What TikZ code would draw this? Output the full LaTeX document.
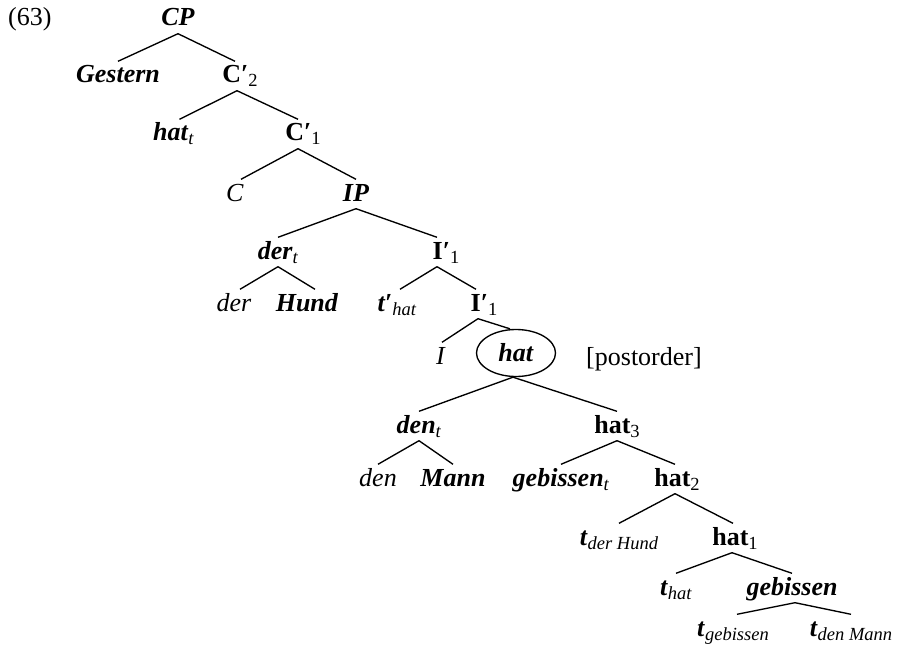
\documentclass[tikz,border=0pt]{standalone}
\usepackage{fontspec}
\setmainfont{Liberation Serif}
\usetikzlibrary{shapes.geometric}
\newcommand{\sbs}[1]{\raisebox{-4pt}{\fontsize{18.5}{20}\selectfont #1}}
\newcommand{\bi}[1]{\textbf{\textit{#1}}}
\begin{document}
\begin{tikzpicture}[x=1pt,y=-1pt,
  lab/.style={anchor=base, text height=19pt, text depth=5pt, inner ysep=2.5pt, inner xsep=0pt, font=\fontsize{26}{30}\selectfont},
  edge/.style={line width=1.35pt}]
\useasboundingbox (0,0) rectangle (903,650);
% nodes
\node[lab, anchor=base west] (ex) at (8,26) {(63)};
\node[lab] (CP) at (178,26) {\bi{CP}};
\node[lab] (Gestern) at (118,83) {\bi{Gestern}};
\node[lab] (C2) at (240,83) {\textbf{C′}\sbs{2}};
\node[lab] (hatt) at (173.5,141) {\bi{hat}\sbs{\textit{t}}};
\node[lab] (C1) at (303,141) {\textbf{C′}\sbs{1}};
\node[lab] (C) at (235,201) {\textit{C}};
\node[lab] (IP) at (356,201) {\bi{IP}};
\node[lab] (dert) at (278,259) {\bi{der}\sbs{\textit{t}}};
\node[lab] (I1) at (446,259) {\textbf{I′}\sbs{1}};
\node[lab] (der) at (234,311) {\textit{der}};
\node[lab] (Hund) at (307,311) {\bi{Hund}};
\node[lab] (thatp) at (397,311) {\bi{t′}\sbs{\textit{hat}}};
\node[lab] (I1b) at (484,311) {\textbf{I′}\sbs{1}};
\node[lab] (I) at (441,364) {\textit{I}};
\node[ellipse, draw, line width=1.35pt, minimum width=79pt, minimum height=47pt, inner sep=0pt, font=\fontsize{26}{30}\selectfont] (hat) at (516,353) {\bi{hat}};
\node[lab] (post) at (644,365) {[postorder]};
\node[lab] (dent) at (419,433) {\bi{den}\sbs{\textit{t}}};
\node[lab] (hat3) at (617,433) {\textbf{hat}\sbs{3}};
\node[lab] (den) at (378,486) {\textit{den}};
\node[lab] (Mann) at (453,486) {\bi{Mann}};
\node[lab] (gebt) at (561,486) {\bi{gebissen}\sbs{\textit{t}}};
\node[lab] (hat2) at (677,486) {\textbf{hat}\sbs{2}};
\node[lab] (tdh) at (619,545) {\bi{t}\sbs{\textit{der Hund}}};
\node[lab] (hat1) at (735,545) {\textbf{hat}\sbs{1}};
\node[lab] (that) at (676,595) {\bi{t}\sbs{\textit{hat}}};
\node[lab] (geb) at (792,595) {\bi{gebissen}};
\node[lab] (tgeb) at (733,636) {\bi{t}\sbs{\textit{gebissen}}};
\node[lab] (tdm) at (851,636) {\bi{t}\sbs{\textit{den Mann}}};
% edges
\draw[edge] (CP.south) -- (Gestern.north);
\draw[edge] (CP.south) -- ([xshift=-5pt]C2.north);
\draw[edge] ([xshift=-3pt]C2.south) -- ([xshift=6pt]hatt.north);
\draw[edge] ([xshift=-3pt]C2.south) -- ([xshift=-5pt]C1.north);
\draw[edge] ([xshift=-5pt]C1.south) -- ([xshift=6pt]C.north);
\draw[edge] ([xshift=-5pt]C1.south) -- (IP.north);
\draw[edge] (IP.south) -- (dert.north);
\draw[edge] (IP.south) -- ([xshift=-9pt]I1.north);
\draw[edge] (dert.south) -- ([xshift=6pt]der.north);
\draw[edge] (dert.south) -- ([xshift=8pt]Hund.north);
\draw[edge] ([xshift=-9pt]I1.south) -- ([xshift=3pt]thatp.north);
\draw[edge] ([xshift=-9pt]I1.south) -- ([xshift=-8pt]I1b.north);
\draw[edge] ([xshift=-6pt]I1b.south) -- ([xshift=1pt]I.north);
\draw[edge] ([xshift=-6pt]I1b.south) -- ([xshift=-6pt]hat.north);
\draw[edge] ([xshift=-3pt]hat.south) -- (dent.north);
\draw[edge] ([xshift=-3pt]hat.south) -- (hat3.north);
\draw[edge] (dent.south) -- (den.north);
\draw[edge] (dent.south) -- (Mann.north);
\draw[edge] (hat3.south) -- (gebt.north);
\draw[edge] (hat3.south) -- ([xshift=-2pt]hat2.north);
\draw[edge] ([xshift=-2pt]hat2.south) -- (tdh.north);
\draw[edge] ([xshift=-2pt]hat2.south) -- ([xshift=-2pt]hat1.north);
\draw[edge] ([xshift=-3pt]hat1.south) -- (that.north);
\draw[edge] ([xshift=-3pt]hat1.south) -- (geb.north);
\draw[edge] ([xshift=3pt]geb.south) -- ([xshift=4pt]tgeb.north);
\draw[edge] ([xshift=3pt]geb.south) -- (tdm.north);
\end{tikzpicture}
\end{document}
